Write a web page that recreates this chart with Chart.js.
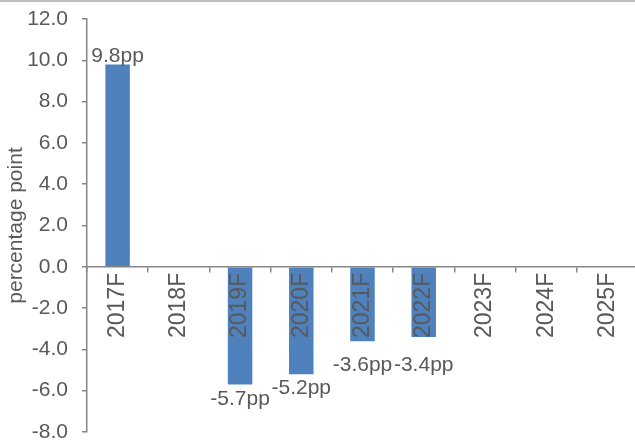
<!DOCTYPE html>
<html>
<head>
<meta charset="utf-8">
<script src="https://cdn.jsdelivr.net/npm/chart.js@4.4.1/dist/chart.umd.min.js"></script>
<style>
  html, body { margin: 0; padding: 0; background: #fff; overflow: hidden; }
  #wrap { width: 635px; height: 441px; overflow: hidden; }
</style>
</head>
<body>
<div id="wrap"><canvas id="chart" width="640" height="470"></canvas></div>
<script>
const years = ['2017F', '2018F', '2019F', '2020F', '2021F', '2022F', '2023F', '2024F', '2025F'];
const changes = [9.8, null, -5.7, -5.2, -3.6, -3.4, null, null, null];
const yMin = -8;
const yMax = 12;
const yStep = 2;

const FONT = '"Liberation Sans", Arial, sans-serif';
const GREY_TEXT = '#595959';
const AXIS = '#868686';

// thin grey rule along the top edge
const topRule = {
    id: 'topRule',
    beforeDraw(chart) {
        const ctx = chart.ctx;
        ctx.save();
        ctx.fillStyle = '#bfbfbf';
        ctx.fillRect(0, 0, chart.width, 2);
        ctx.restore();
    }
};

// "pp" value labels at the end of each bar
const ppLabels = {
    id: 'ppLabels',
    afterDraw(chart) {
        const ctx = chart.ctx;
        const meta = chart.getDatasetMeta(0);
        const zero = chart.scales.y.getPixelForValue(0);
        ctx.save();
        ctx.font = '21px ' + FONT;
        ctx.fillStyle = GREY_TEXT;
        ctx.textAlign = 'center';
        meta.data.forEach((bar, i) => {
            const v = changes[i];
            if (v === null) return;
            const text = v.toFixed(1) + 'pp';
            if (v >= 0) {
                ctx.textBaseline = 'middle';
                ctx.fillText(text, bar.x, bar.y - 8);
            } else {
                // keep clear of the rotated year labels under the zero line
                ctx.textBaseline = 'top';
                ctx.fillText(text, bar.x, Math.max(bar.y + 4, zero + 88));
            }
        });
        ctx.restore();
    }
};

new Chart(document.getElementById('chart'), {
    type: 'bar',
    data: {
        labels: years,
        datasets: [{
            data: changes,
            backgroundColor: '#4f81bd',
            categoryPercentage: 1,
            barPercentage: 0.4
        }]
    },
    options: {
        responsive: false,
        animation: false,
        devicePixelRatio: 1,
        layout: { padding: { top: 19, right: 2, bottom: 38, left: 0 } },
        plugins: {
            legend: { display: false },
            tooltip: { enabled: false }
        },
        scales: {
            x: {
                position: { y: 0 },
                offset: true,
                border: { color: AXIS, width: 1.5, z: 1 },
                grid: {
                    offset: true,
                    drawOnChartArea: false,
                    drawTicks: true,
                    tickLength: 5,
                    color: AXIS,
                    lineWidth: 1.5,
                    z: 1
                },
                ticks: {
                    minRotation: 90,
                    maxRotation: 90,
                    autoSkip: false,
                    padding: 1,
                    z: 1,
                    color: GREY_TEXT,
                    font: { family: FONT, size: 23 }
                }
            },
            y: {
                min: yMin,
                max: yMax,
                afterFit(scale) {
                    scale.width = 87;
                    scale.paddingTop = 0;
                    scale.paddingBottom = 0;
                },
                border: { color: AXIS, width: 1.5 },
                grid: {
                    drawOnChartArea: false,
                    drawTicks: true,
                    tickLength: 5,
                    color: AXIS,
                    lineWidth: 1.5
                },
                ticks: {
                    stepSize: yStep,
                    padding: 14,
                    color: GREY_TEXT,
                    font: { family: FONT, size: 21 },
                    callback: v => v.toFixed(1)
                },
                title: {
                    display: true,
                    text: 'percentage point',
                    color: GREY_TEXT,
                    padding: { top: 4, bottom: 0 },
                    font: { family: FONT, size: 21 }
                }
            }
        }
    },
    plugins: [topRule, ppLabels]
});
</script>
</body>
</html>
